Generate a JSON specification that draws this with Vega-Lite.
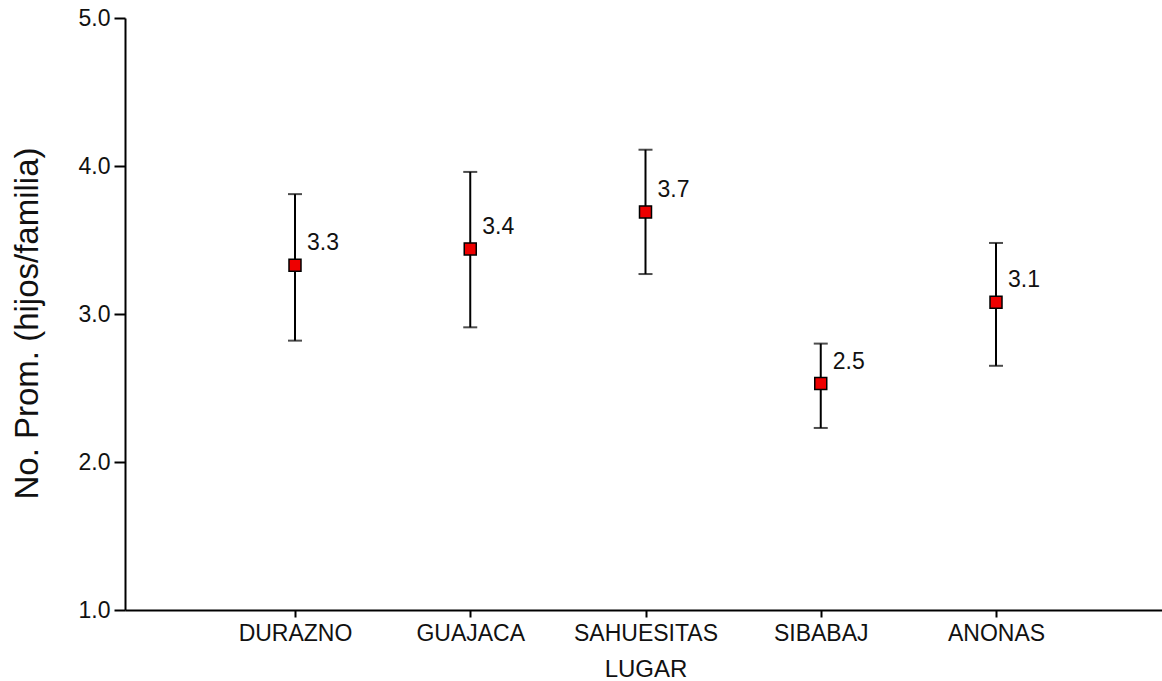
{
  "$schema": "https://vega.github.io/schema/vega-lite/v6.json",
  "autosize": "none",
  "width": 1041,
  "height": 592,
  "padding": {"left": 125, "top": 18, "right": 0, "bottom": 71},
  "background": "white",
  "config": {
    "view": {"stroke": null},
    "font": "Liberation Sans"
  },
  "data": {
    "values": [
      {"lugar": "DURAZNO", "mean": 3.33, "lower": 2.82, "upper": 3.81},
      {"lugar": "GUAJACA", "mean": 3.44, "lower": 2.91, "upper": 3.96},
      {"lugar": "SAHUESITAS", "mean": 3.69, "lower": 3.27, "upper": 4.11},
      {"lugar": "SIBABAJ", "mean": 2.53, "lower": 2.23, "upper": 2.80},
      {"lugar": "ANONAS", "mean": 3.08, "lower": 2.65, "upper": 3.48}
    ]
  },
  "encoding": {
    "x": {
      "field": "lugar",
      "type": "nominal",
      "sort": null,
      "scale": {"type": "point", "padding": 0.97},
      "axis": {
        "title": "LUGAR",
        "labelAngle": 0,
        "labelFont": "Liberation Sans",
        "labelFontSize": 23,
        "labelColor": "#111",
        "labelPadding": 5,
        "tickSize": 7,
        "tickColor": "black",
        "tickWidth": 2,
        "domainColor": "black",
        "domainWidth": 2,
        "titleFont": "Liberation Sans",
        "titleFontSize": 24,
        "titleFontWeight": "normal",
        "titleColor": "#111",
        "titlePadding": 12,
        "grid": false
      }
    }
  },
  "layer": [
    {
      "mark": {"type": "rule", "color": "black", "strokeWidth": 2},
      "encoding": {
        "y": {
          "field": "lower",
          "type": "quantitative",
          "scale": {"domain": [1, 5], "nice": false, "zero": false},
          "axis": {
            "title": "No. Prom. (hijos/familia)",
            "values": [1, 2, 3, 4, 5],
            "format": ".1f",
            "labelFont": "Liberation Sans",
            "labelFontSize": 23,
            "labelColor": "#111",
            "labelPadding": 4,
            "tickSize": 11,
            "tickColor": "black",
            "tickWidth": 2,
            "domainColor": "black",
            "domainWidth": 2,
            "grid": false,
            "titleFont": "Liberation Sans",
            "titleFontSize": 33,
            "titleFontWeight": "normal",
            "titleColor": "#111",
            "titlePadding": 34,
            "titleY": 305
          }
        },
        "y2": {"field": "upper"}
      }
    },
    {
      "mark": {"type": "tick", "color": "black", "thickness": 2, "size": 14, "orient": "horizontal"},
      "encoding": {"y": {"field": "upper", "type": "quantitative"}}
    },
    {
      "mark": {"type": "tick", "color": "black", "thickness": 2, "size": 14, "orient": "horizontal"},
      "encoding": {"y": {"field": "lower", "type": "quantitative"}}
    },
    {
      "mark": {"type": "point", "shape": "square", "filled": true, "size": 144, "fill": "#ee0000", "stroke": "black", "strokeWidth": 1.5, "opacity": 1},
      "encoding": {"y": {"field": "mean", "type": "quantitative"}}
    },
    {
      "mark": {"type": "text", "align": "left", "baseline": "middle", "dx": 12, "dy": -22, "fontSize": 23, "font": "Liberation Sans", "color": "#111"},
      "encoding": {
        "y": {"field": "mean", "type": "quantitative"},
        "text": {"field": "mean", "type": "quantitative", "format": ".1f"}
      }
    }
  ]
}
